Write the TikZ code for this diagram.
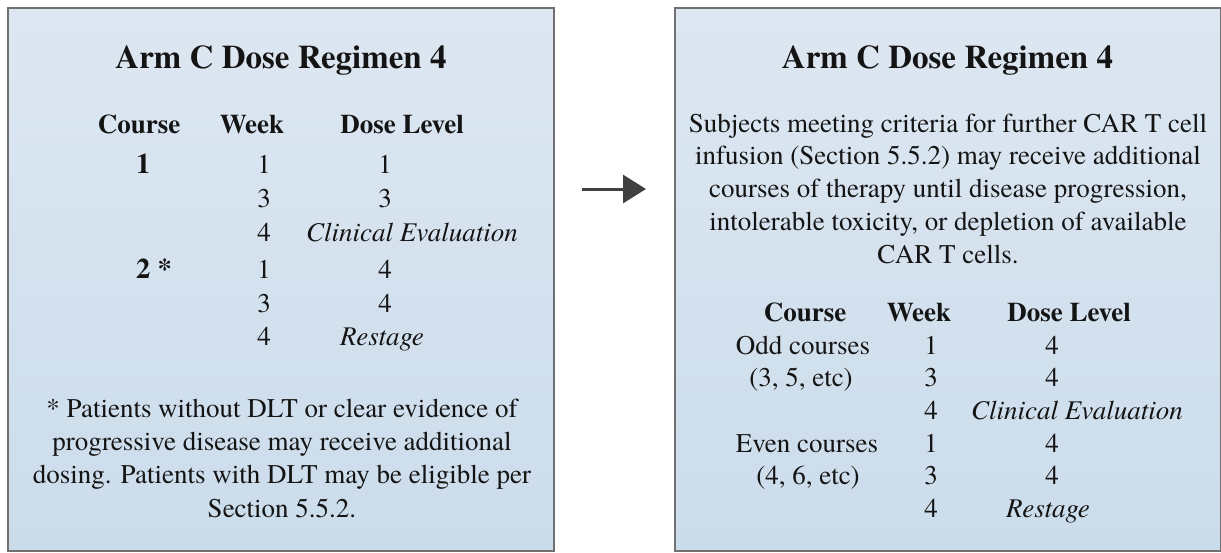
\documentclass[tikz,border=0pt]{standalone}
\usepackage{fontspec}
\setmainfont{texgyretermes}[Extension=.otf, UprightFont=*-regular, BoldFont=*-bold, ItalicFont=*-italic, BoldItalicFont=*-bolditalic]
\usetikzlibrary{arrows.meta}
\definecolor{boxtop}{RGB}{221,231,241}
\definecolor{boxbot}{RGB}{203,220,235}
\definecolor{boxline}{RGB}{112,112,112}
\definecolor{arrowcol}{RGB}{64,64,64}
\definecolor{txt}{RGB}{20,20,20}
\begin{document}
\begin{tikzpicture}[x=1pt,y=-1pt,
  panel/.style={draw=boxline, line width=2pt, top color=boxtop, bottom color=boxbot,
    minimum width=546pt, minimum height=543pt, inner sep=0pt},
  ttl/.style={anchor=base, inner sep=0pt, text=txt, font=\fontsize{33}{40}\selectfont\bfseries},
  hdr/.style={anchor=base, inner sep=0pt, text=txt, font=\fontsize{27}{32.7}\selectfont\bfseries},
  cell/.style={anchor=base, inner sep=0pt, text=txt, font=\fontsize{27}{32.7}\selectfont},
  cellit/.style={anchor=base, inner sep=0pt, text=txt, font=\fontsize{27}{32.7}\selectfont\itshape},
  crs/.style={anchor=base west, inner sep=0pt, text=txt, font=\fontsize{28.5}{34}\selectfont\bfseries},
  para/.style={anchor=north, inner sep=0pt, align=center, text=txt, font=\fontsize{27}{32.8}\selectfont},
  note/.style={anchor=north, inner sep=0pt, align=center, text=txt, font=\fontsize{27}{33.3}\selectfont},
  flow/.style={draw=arrowcol, line width=3pt, -{Triangle[length=23pt,width=28pt]}}
]
\useasboundingbox (0,0) rectangle (1221,552);
% panels
\node[panel] (leftbox) at (281,279.5) {};
\node[panel] (rightbox) at (947.5,279.5) {};
% arrow
\coordinate (arrs) at (582,189);
\coordinate (arre) at (646,189);
\draw[flow] (arrs) -- (arre);

% ---------- left panel ----------
\node[ttl] (ltitle) at (281,68) {Arm C Dose Regimen 4};
\node[hdr] (lhc) at (139,133) {Course};
\node[hdr] (lhw) at (252,133) {Week};
\node[hdr] (lhd) at (402,133) {Dose Level};
\node[crs] (lc1) at (136,173) {1};
\node[crs] (lc2) at (136,278) {2 *};
\node[cell] (lw1) at (264,173) {1};
\node[cell] (lw2) at (264,207) {3};
\node[cell] (lw3) at (264,241) {4};
\node[cell] (lw4) at (264,278) {1};
\node[cell] (lw5) at (264,312) {3};
\node[cell] (lw6) at (264,345) {4};
\node[cell] (ld1) at (385,173) {1};
\node[cell] (ld2) at (385,207) {3};
\node[cellit] (ld3) at (412,241) {Clinical Evaluation};
\node[cell] (ld4) at (385,278) {4};
\node[cell] (ld5) at (385,312) {4};
\node[cellit] (ld6) at (382,345) {Restage};
\node[note] (lnote) at (282,393.7) {\strut* Patients without DLT or clear evidence of\\
\strut progressive disease may receive additional\\
\strut dosing. Patients with DLT may be eligible per\\
\strut Section 5.5.2.};

% ---------- right panel ----------
\node[ttl] (rtitle) at (947.5,68) {Arm C Dose Regimen 4};
\node[para] (rtext) at (948,109) {\strut Subjects meeting criteria for further CAR T cell\\
\strut infusion (Section 5.5.2) may receive additional\\
\strut courses of therapy until disease progression,\\
\strut intolerable toxicity, or depletion of available\\
\strut CAR T cells.};
\node[hdr] (rhc) at (805,321) {Course};
\node[hdr] (rhw) at (919,321) {Week};
\node[hdr] (rhd) at (1069,321) {Dose Level};
\node[cell] (rc1) at (803,354) {Odd courses};
\node[cell] (rc2) at (801,386.7) {(3, 5, etc)};
\node[cell] (rc3) at (807,452.1) {Even courses};
\node[cell] (rc4) at (808,484.8) {(4, 6, etc)};
\node[cell] (rw1) at (931,354) {1};
\node[cell] (rw2) at (931,386.7) {3};
\node[cell] (rw3) at (931,419.4) {4};
\node[cell] (rw4) at (931,452.1) {1};
\node[cell] (rw5) at (931,484.8) {3};
\node[cell] (rw6) at (931,517.5) {4};
\node[cell] (rd1) at (1052,354) {4};
\node[cell] (rd2) at (1052,386.7) {4};
\node[cellit] (rd3) at (1077,419.4) {Clinical Evaluation};
\node[cell] (rd4) at (1052,452.1) {4};
\node[cell] (rd5) at (1052,484.8) {4};
\node[cellit] (rd6) at (1048,517.5) {Restage};
\end{tikzpicture}
\end{document}
